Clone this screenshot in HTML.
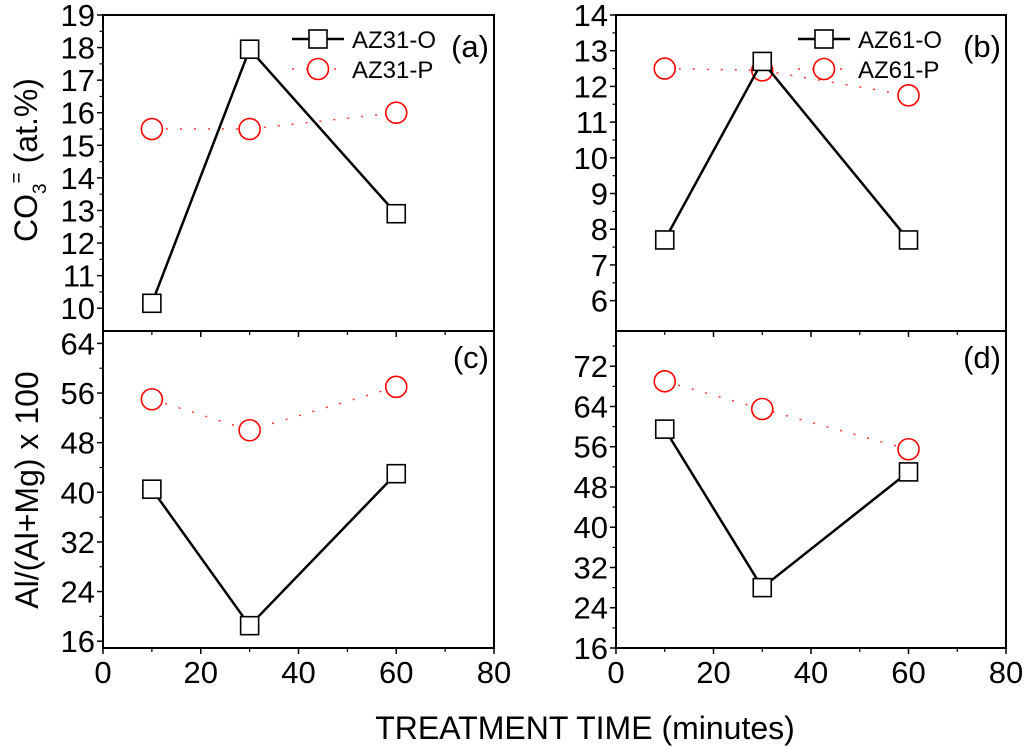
<!DOCTYPE html>
<html><head><meta charset="utf-8"><style>
html,body{margin:0;padding:0;background:#fff}
svg{display:block;font-family:"Liberation Sans",sans-serif}
</style></head><body>
<svg id="chart" width="1024" height="748" viewBox="0 0 1024 748"></svg>
<script>
const times = [10, 30, 60];
const aO = [10.15, 17.95, 12.9];
const aP = [15.5, 15.5, 16.0];
const bO = [7.7, 12.7, 7.7];
const bP = [12.5, 12.45, 11.75];
const cO = [40.5, 18.5, 43.0];
const cP = [55.0, 50.0, 57.0];
const dO = [59.5, 28.0, 51.0];
const dP = [69.0, 63.5, 55.5];
const xTicks = [0, 20, 40, 60, 80];
const aTicks = [10, 11, 12, 13, 14, 15, 16, 17, 18, 19];
const bTicks = [6, 7, 8, 9, 10, 11, 12, 13, 14];
const cTicks = [16, 24, 32, 40, 48, 56, 64];
const dTicks = [16, 24, 32, 40, 48, 56, 64, 72];

const NS = "http://www.w3.org/2000/svg";
const svg = document.getElementById('chart');
function el(tag, attrs, parent, text) {
  const e = document.createElementNS(NS, tag);
  for (const k in attrs) e.setAttribute(k, attrs[k]);
  if (text !== undefined) e.textContent = text;
  (parent || svg).appendChild(e);
  return e;
}
const panels = [
  {id:'a', x0:103, x1:494, y0:15, y1:331, vmin:9.3, vmax:19, ticks:aTicks, minor:0.5, O:aO, P:aP, label:'(a)', leg:['AZ31-O','AZ31-P'], xlab:false},
  {id:'b', x0:616, x1:1006, y0:15, y1:331, vmin:5.15, vmax:14, ticks:bTicks, minor:0.5, O:bO, P:bP, label:'(b)', leg:['AZ61-O','AZ61-P'], xlab:false},
  {id:'c', x0:103, x1:494, y0:331, y1:648, vmin:14.9, vmax:66, ticks:cTicks, minor:4, O:cO, P:cP, label:'(c)', xlab:true},
  {id:'d', x0:616, x1:1006, y0:331, y1:648, vmin:16, vmax:79, ticks:dTicks, minor:4, O:dO, P:dP, label:'(d)', xlab:true}
];
panels.forEach(p => {
  const g = el('g', {}, svg);
  
  
  const sx = v => p.x0 + (v - 0) / 80 * (p.x1 - p.x0);
  const sy = v => p.y1 - (v - p.vmin) / (p.vmax - p.vmin) * (p.y1 - p.y0);
  const fr = el('rect', {x:p.x0, y:p.y0, width:p.x1-p.x0, height:p.y1-p.y0, fill:'none', stroke:'#000', 'stroke-width':2}, g);
  
  
  const yt = el('g', {}, g);
  
  
  p.ticks.forEach(t => {
    const y = sy(t);
    el('line', {x1:p.x0-6, x2:p.x0, y1:y, y2:y, stroke:'#000', 'stroke-width':1.5}, yt);
    const m = sy(t + p.minor);
    if (m > p.y0) el('line', {x1:p.x0-3.5, x2:p.x0, y1:m, y2:m, stroke:'#000', 'stroke-width':1.2}, yt);
    const tx = el('text', {x:p.x0-8, y:y+11, 'text-anchor':'end', 'font-size':31}, yt, String(t));
    
    
  });
  const xt = el('g', {}, g);
  
  
  xTicks.forEach(t => {
    const x = sx(t);
    el('line', {x1:x, x2:x, y1:p.y1, y2:p.y1+6, stroke:'#000', 'stroke-width':1.5}, xt);
    if (t < 80) { const mx = sx(t+10); el('line', {x1:mx, x2:mx, y1:p.y1, y2:p.y1+4, stroke:'#000', 'stroke-width':1.2}, xt); }
    if (p.xlab) {
      const tx = el('text', {x:x, y:p.y1+35, 'text-anchor':'middle', 'font-size':31}, xt, String(t));
      
      
    }
  });
  const ptsP = times.map((t,i)=>[sx(t), sy(p.P[i])]);
  const lp = el('polyline', {points:ptsP.map(q=>q.join(',')).join(' '), fill:'none', stroke:'#f33', 'stroke-width':1.5, 'stroke-dasharray':'2 12'}, g);
  
  
  ptsP.forEach(q => {
    const c = el('circle', {cx:q[0], cy:q[1], r:10.5, fill:'#fff', stroke:'#f00', 'stroke-width':1.6}, g);
    
    
  });
  const ptsO = times.map((t,i)=>[sx(t), sy(p.O[i])]);
  const lo = el('polyline', {points:ptsO.map(q=>q.join(',')).join(' '), fill:'none', stroke:'#000', 'stroke-width':2.5}, g);
  
  
  ptsO.forEach(q => {
    const r = el('rect', {x:q[0]-9, y:q[1]-9, width:18, height:18, fill:'#fff', stroke:'#000', 'stroke-width':1.6}, g);
    
    
  });
  const lb = el('text', {x:p.x1-5, y:p.y0+(p.leg?42:37), 'text-anchor':'end', 'font-size':31}, g, p.label);
  
  
  if (p.leg) {
    const lg = el('g', {}, g);
    
    
    const lx = p.id==='a' ? 292 : 798;
    el('line', {x1:lx, x2:lx+52, y1:39, y2:39, stroke:'#000', 'stroke-width':2.5}, lg);
    el('rect', {x:lx+17, y:30, width:18, height:18, fill:'#fff', stroke:'#000', 'stroke-width':1.6}, lg);
    el('text', {x:lx+60, y:48, 'font-size':24}, lg, p.leg[0]);
    el('line', {x1:lx, x2:lx+52, y1:69, y2:69, stroke:'#f33', 'stroke-width':1.5, 'stroke-dasharray':'2 12'}, lg);
    el('circle', {cx:lx+26, cy:69, r:10.5, fill:'#fff', stroke:'#f00', 'stroke-width':1.6}, lg);
    el('text', {x:lx+60, y:78, 'font-size':24}, lg, p.leg[1]);
  }
});
const yt1 = el('text', {transform:'translate(37,160) rotate(-90)', 'text-anchor':'middle', 'font-size':32});


el('tspan', {}, yt1, 'CO');
el('tspan', {'font-size':19, dy:9}, yt1, '3');
el('tspan', {'font-size':19, dy:-23}, yt1, '=');
el('tspan', {dy:14}, yt1, ' (at.%)');
const yt2 = el('text', {transform:'translate(38,490) rotate(-90)', 'text-anchor':'middle', 'font-size':32}, svg, 'Al/(Al+Mg) x 100');


const xt = el('text', {x:585, y:739, 'text-anchor':'middle', 'font-size':32}, svg, 'TREATMENT TIME (minutes)');


</script>
</body></html>
